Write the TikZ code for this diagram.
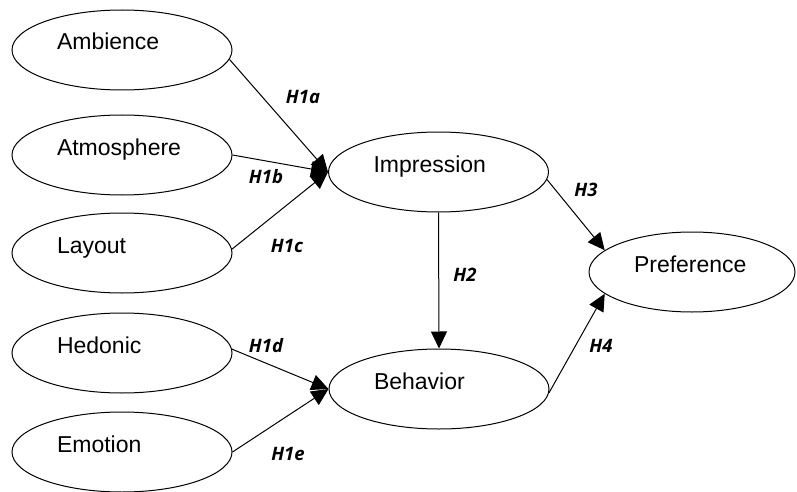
\documentclass[tikz,border=0pt]{standalone}
\usepackage{fontspec}
\setmainfont{Liberation Sans}
\newfontfamily\hypfont{Open Sans}
\usetikzlibrary{shapes,arrows.meta,positioning,calc}

\begin{document}
\begin{tikzpicture}[x=1pt,y=-1pt]
      \tikzstyle{var}=[draw, ellipse, line width=1pt, inner sep=0pt,
        minimum width=220pt, minimum height=80pt, text width=130pt,
        align=left, text height=6pt, text depth=6pt,
        font=\fontsize{23}{26}\selectfont];
      \tikzstyle{hyp}=[font=\hypfont\bfseries\itshape\fontsize{18.5}{22}\selectfont, inner sep=0pt];
      \tikzstyle{path}=[line width=1pt, -{Triangle[length=17pt,width=16pt]}];

      \useasboundingbox (0,0) rectangle (797,492);

      % antecedents
      \node (amb) at (122,50)[var]{Ambience};
      \node (atm) at (122,155)[var]{Atmosphere};
      \node (lay) at (122,253)[var]{Layout};
      \node (hed) at (122,353)[var]{Hedonic};
      \node (emo) at (122,452)[var]{Emotion};

      % mediators and outcome
      \node (imp) at (438.5,172)[var]{Impression};
      \node (beh) at (439,389)[var]{Behavior};
      \node (pref) at (692,272)[var, minimum width=206pt, text width=116pt]{Preference};

      \draw [path] (amb.-5) -- (imp.west);
      \draw [path] (atm.east) -- (imp.west);
      \draw [path] (lay.2) -- (imp.west);

      \draw [path] (hed.2) -- (beh.west);
      \draw [path] (emo.east) -- (beh.west);

      \draw [path] (imp.south) -- (beh.north);
      \draw [path] (imp.-4) -- (pref.166);
      \draw [path] (beh.-2) -- (pref.194);

      % hypothesis labels
      \node (h1a) at (303,97)[hyp]{H1a};
      \node (h1b) at (266,177)[hyp]{H1b};
      \node (h1c) at (287,246)[hyp]{H1c};
      \node (h1d) at (266,346)[hyp]{H1d};
      \node (h1e) at (288,454)[hyp]{H1e};
      \node (h2) at (465,275)[hyp]{H2};
      \node (h3) at (586,190)[hyp]{H3};
      \node (h4) at (601,346)[hyp]{H4};

    \end{tikzpicture}
\end{document}
